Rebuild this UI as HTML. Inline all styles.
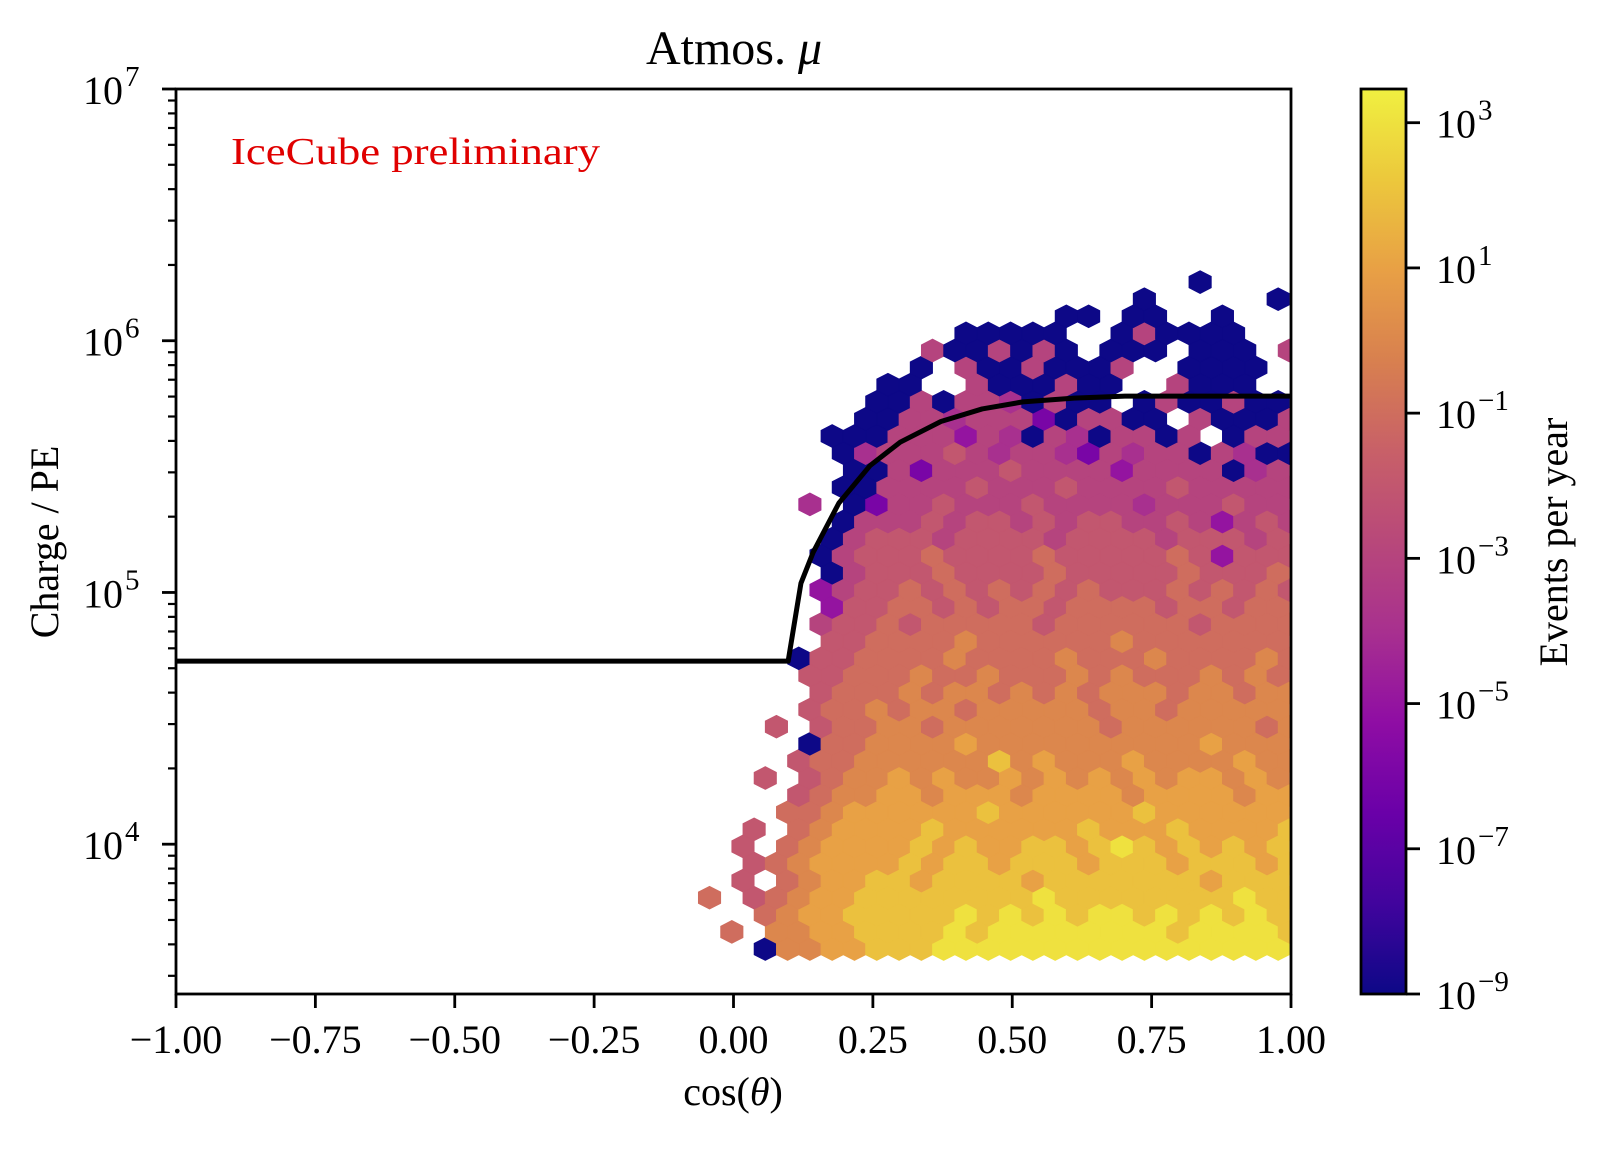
<!DOCTYPE html>
<html><head><meta charset="utf-8"><style>
html,body{margin:0;padding:0;background:#fff;}
svg{display:block;font-family:"Liberation Serif","DejaVu Serif",serif;}
</style></head><body>
<svg id="chart" width="1603" height="1149" viewBox="0 0 1603 1149" xmlns="http://www.w3.org/2000/svg">
<defs>
<clipPath id="axclip"><rect x="176" y="89" width="1115" height="905"/></clipPath>
<linearGradient id="cbgrad" x1="0" y1="1" x2="0" y2="0">
<stop offset="0" stop-color="#0d0887"/><stop offset="0.1" stop-color="#41049d"/><stop offset="0.2" stop-color="#6a00a8"/><stop offset="0.3" stop-color="#8f0da4"/><stop offset="0.4" stop-color="#a8308f"/><stop offset="0.5" stop-color="#b8487a"/><stop offset="0.6" stop-color="#c86068"/><stop offset="0.7" stop-color="#d8804f"/><stop offset="0.8" stop-color="#e8a045"/><stop offset="0.9" stop-color="#ecc83c"/><stop offset="1" stop-color="#f0f040"/>
</linearGradient>
</defs>
<rect x="0" y="0" width="1603" height="1149" fill="#fff"/>
<g id="hexes" clip-path="url(#axclip)"></g>
<g id="curve" clip-path="url(#axclip)"></g>
<rect x="176" y="89" width="1115" height="905" fill="none" stroke="#000" stroke-width="2.8"/>
<g id="xaxis"></g>
<g id="yaxis"></g>
<text x="734" y="64" font-size="48" text-anchor="middle">Atmos. <tspan font-style="italic">μ</tspan></text>
<text x="733" y="1105" font-size="40" text-anchor="middle">cos(<tspan font-style="italic">θ</tspan>)</text>
<text transform="translate(58,542) rotate(-90)" font-size="40" text-anchor="middle">Charge / PE</text>
<text x="231" y="164" font-size="38" fill="#e00000" textLength="369" lengthAdjust="spacingAndGlyphs">IceCube preliminary</text>
<rect x="1361" y="89" width="45" height="905" fill="url(#cbgrad)" stroke="#000" stroke-width="2.8"/>
<g id="cbaxis"></g>
<text transform="translate(1567,542) rotate(-90)" font-size="40" text-anchor="middle">Events per year</text>
</svg>
<script>
// ---- data ----
const hexRows = [ // bottom row (j=0) first; '.'=empty, '0'..'C' => log10 = idx-9
"...099AABBBCCCCCCCCCCCCCCCC",
".8.99AABBBBCBCCCCCCCCBCCCCB",
"...89AABBBBBCBCBCBCCBCBCBCB",
"8.789AABBBBBBBBCBBBBBBBBCBB",
"..7.89AABBABBBBABBBBBBBABBB",
"..789AAAABABBABBBABBBABBBAB",
"..7.89AAAABABAABBABCBABABAB",
"..7.89AAAABAAAAAABAAABAAAAB",
"....889AAAAAABAAAAAABAAAAAA",
"....7899AA9AAA9AAAA9AAAA9AA",
"...7.7899A9A99A9A9A9A9AA9A9",
"....788999999B9A999A9999A99",
".....0889999A9999999999A999",
"...7.7889989999999899999989",
".....7889899899999899899999",
".....7888989989898999899899",
".....7788898898889898889898",
"....07788889888898889888898",
"......778888988888898888888",
".....6778788888788888878888",
"......477887878878888788788",
".....4677878787878777878787",
"......067778777787777787778",
".....0677787777877777874777",
"......067776777767777677767",
"......066676776767766764676",
".....5.03667666766665666766",
"......006666766676666766666",
".......00636667666646666056",
"......056667656653656606500.",
"......00066646506506606.066",
".......00665666306600.60006",
"........00606650600.0600600",
"........00..6000600..6000..",
"..........0.60060006..0000.",
"..........6006060.000.000.6",
"............00000..060000..",
"................00.00..0...",
"....................0.....0",
"......................0...."
];
const levelChars = "0123456789ABC";
const lineCos  = [-1.0, 0.098, 0.121, 0.143, 0.189, 0.245, 0.299, 0.372, 0.446, 0.519, 0.611, 0.702, 1.0];
const lineLogQ = [4.727, 4.727, 5.037, 5.16, 5.355, 5.504, 5.597, 5.679, 5.729, 5.757, 5.772, 5.78, 5.78];
const xTicks = [-1.0, -0.75, -0.5, -0.25, 0.0, 0.25, 0.5, 0.75, 1.0];
const xTickLabels = ["\u22121.00","\u22120.75","\u22120.50","\u22120.25","0.00","0.25","0.50","0.75","1.00"];
const yTickExps = [4, 5, 6, 7];
const cbTickExps = [3, 1, -1, -3, -5, -7, -9];

// ---- scales ----
const X0=176, X1=1291, Y0=89, Y1=994;
const yLogMax=7, yLogMin=7-(Y1-Y0)/251.73;
function xs(v){ return X0 + (v+1)/2*(X1-X0); }
function ys(l){ return Y0 + (yLogMax-l)/(yLogMax-yLogMin)*(Y1-Y0); }
const cbTop=89, cbBot=994, cbMin=-9, cbMax=3+(122.7-89)/72.6;
function cbY(l){ return cbBot - (l-cbMin)/(cbMax-cbMin)*(cbBot-cbTop); }
const stops=[[0,"#0d0887"],[0.1,"#41049d"],[0.2,"#6a00a8"],[0.3,"#8f0da4"],[0.4,"#a8308f"],[0.5,"#b8487a"],[0.6,"#c86068"],[0.7,"#d8804f"],[0.8,"#e8a045"],[0.9,"#ecc83c"],[1,"#f0f040"]];
function hx(h){return [parseInt(h.substr(1,2),16),parseInt(h.substr(3,2),16),parseInt(h.substr(5,2),16)];}
function cmap(l){
  let t=(l-cbMin)/(cbMax-cbMin); t=Math.max(0,Math.min(1,t));
  for(let i=1;i<stops.length;i++){ if(t<=stops[i][0]){ const a=hx(stops[i-1][1]),b=hx(stops[i][1]); const f=(t-stops[i-1][0])/(stops[i][0]-stops[i-1][0]);
    return "rgb("+a.map((v,k)=>Math.round(v+(b[k]-v)*f)).join(",")+")"; } }
  return stops[stops.length-1][1];
}
const NS="http://www.w3.org/2000/svg";
function mk(tag,attrs,parent){const e=document.createElementNS(NS,tag);for(const k in attrs)e.setAttribute(k,attrs[k]);parent.appendChild(e);return e;}

// ---- hexes (grid geometry) ----
const gx0=-0.0630, gdx=0.04, glog0=3.5836, gdlog=0.06793;
const gHex=document.getElementById('hexes');
hexRows.forEach((row,j)=>{
  const off=(j%2===1)?gdx/2:0;
  const l=glog0+j*gdlog;
  for(let c=0;c<row.length;c++){
    const ch=row[c]; const idx=levelChars.indexOf(ch); if(idx<0) continue;
    const val=idx-9;
    const cx=xs(gx0+off+c*gdx), cy=ys(l);
    const hw=(xs(gdx)-xs(0))/2, q=(ys(0)-ys(gdlog*2))/6;
    const d="M"+(cx+hw)+","+(cy-q)+"L"+(cx+hw)+","+(cy+q)+"L"+cx+","+(cy+2*q)+"L"+(cx-hw)+","+(cy+q)+"L"+(cx-hw)+","+(cy-q)+"L"+cx+","+(cy-2*q)+"Z";
    const col=cmap(val);
    const p=mk('path',{d:d,fill:col,stroke:col,'stroke-width':0.8},gHex);
    
    
  }
});

// ---- curve ----
const gC=document.getElementById('curve');
const pl=mk('polyline',{points:lineCos.map((v,i)=>xs(v)+","+ys(lineLogQ[i])).join(" "),fill:"none",stroke:"#000","stroke-width":5,"stroke-linejoin":"round","stroke-linecap":"round"},gC);



// ---- x axis ----
const gX=document.getElementById('xaxis');
xTicks.forEach((v,i)=>{
  const x=xs(v);
  const t=mk('line',{x1:x,y1:Y1,x2:x,y2:Y1+14,stroke:"#000","stroke-width":2.8},gX);
  
  
  const lb=mk('text',{x:x,y:1053,"font-size":40,"text-anchor":"middle"},gX);
  lb.textContent=xTickLabels[i];
  
  
});

// ---- y axis ----
const gY=document.getElementById('yaxis');
yTickExps.forEach(e=>{
  const y=ys(e);
  const t=mk('line',{x1:X0-14,y1:y,x2:X0,y2:y,stroke:"#000","stroke-width":2.8},gY);
  
  
  const lb=mk('text',{x:123,y:y+15,"font-size":40,"text-anchor":"end"},gY);
  lb.textContent="10";
  
  
  const sp=mk('text',{x:125,y:y-3,"font-size":29,"text-anchor":"start"},gY);
  sp.textContent=String(e);
  
  
});
for(let d=3; d<7; d++){
  for(let k=2;k<=9;k++){
    const l=d+Math.log10(k); if(l<yLogMin||l>yLogMax) continue;
    const y=ys(l);
    const t=mk('line',{x1:X0-8,y1:y,x2:X0,y2:y,stroke:"#000","stroke-width":2.2},gY);
    
    
  }
}

// ---- colorbar axis ----
const gCB=document.getElementById('cbaxis');
cbTickExps.forEach(e=>{
  const y=cbY(e);
  const t=mk('line',{x1:1406,y1:y,x2:1420,y2:y,stroke:"#000","stroke-width":2.8},gCB);
  
  
  const lb=mk('text',{x:1436,y:y+15,"font-size":40},gCB);
  lb.textContent="10";
  
  
  const sp=mk('text',{x:1478,y:y-3,"font-size":29},gCB);
  sp.textContent=(e<0?"\u2212":"")+Math.abs(e);
  
  
});
</script>
</body></html>
